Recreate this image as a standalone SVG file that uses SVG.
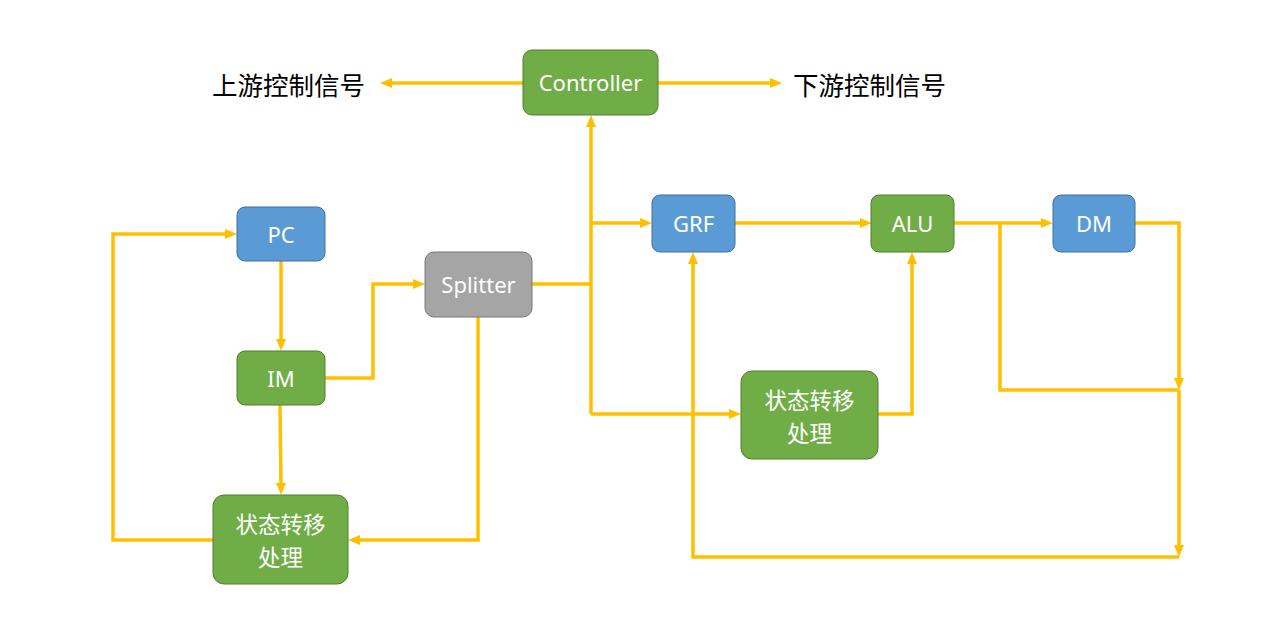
<svg xmlns="http://www.w3.org/2000/svg" width="1271" height="635" viewBox="0 0 1271 635">
<style>
.g{fill:#70AD47;stroke:#507E32;stroke-width:1}
.b{fill:#5B9BD5;stroke:#41719C;stroke-width:1}
.s{fill:#A5A5A5;stroke:#787878;stroke-width:1}
.t{font-family:"Noto Sans","Liberation Sans",sans-serif;font-size:22px;fill:#fff;text-anchor:middle;dominant-baseline:central}
.c{font-family:"Noto Sans CJK SC",sans-serif;font-size:22.5px;fill:#fff;text-anchor:middle;dominant-baseline:central}
.k{font-family:"Noto Sans CJK SC",sans-serif;font-size:25.5px;fill:#000;dominant-baseline:central}
.w{fill:none;stroke:#FFC000;stroke-width:3.5}
.a{marker-end:url(#ar)}
</style>
<defs>
<marker id="ar" markerUnits="userSpaceOnUse" markerWidth="12" markerHeight="10" refX="5" refY="5" orient="auto"><path d="M0,0 L12,5 L0,10 z" fill="#FFC000"/></marker>
</defs>
<rect width="1271" height="635" fill="#fff"/>
<g id="connectors">
<path class="w a" d="M523,83 H387"/>
<path class="w a" d="M658,83 H775"/>
<path class="w" d="M532,284 H591"/>
<path class="w a" d="M591,414 V122"/>
<path class="w a" d="M591,223 H645"/>
<path class="w a" d="M591,414 H734"/>
<path class="w a" d="M281,261 V344"/>
<path class="w a" d="M280,405 L281,488"/>
<path class="w a" d="M325,378 H373 V284 H418"/>
<path class="w a" d="M478,317 V540 H355"/>
<path class="w a" d="M213,540 H113 V234 H230"/>
<path class="w a" d="M735,223 H865"/>
<path class="w a" d="M878,414 H912 V259"/>
<path class="w a" d="M954,223 H1046"/>
<path class="w" d="M1000,223 V390 H1179"/>
<path class="w a" d="M1135,223 H1179 V383"/>
<path class="w a" d="M1179,390 V550"/>
<path class="w a" d="M1179,557 H693 V259"/>
</g>
<g id="label-up"><text class="k" x="212" y="83">上游控制信号</text></g>
<g id="label-down"><text class="k" x="793" y="83">下游控制信号</text></g>
<g id="controller"><rect class="g" x="523" y="50" width="135" height="65" rx="9"/><text class="t" x="590.5" y="82">Controller</text></g>
<g id="pc"><rect class="b" x="237" y="207" width="88" height="54" rx="8"/><text class="t" x="281" y="234">PC</text></g>
<g id="im"><rect class="g" x="237" y="351" width="88" height="54" rx="8"/><text class="t" x="281" y="378">IM</text></g>
<g id="splitter"><rect class="s" x="425" y="252" width="107" height="65" rx="9"/><text class="t" x="478.5" y="284">Splitter</text></g>
<g id="state1"><rect class="g" x="213" y="495" width="135" height="89" rx="11"/><text class="c" x="280.5" y="523">状态转移<tspan x="280.5" dy="33">处理</tspan></text></g>
<g id="grf"><rect class="b" x="652" y="195" width="83" height="57" rx="8"/><text class="t" x="693.5" y="223">GRF</text></g>
<g id="alu"><rect class="g" x="871" y="195" width="83" height="57" rx="8"/><text class="t" x="912.5" y="223">ALU</text></g>
<g id="dm"><rect class="b" x="1053" y="195" width="82" height="57" rx="8"/><text class="t" x="1094" y="223">DM</text></g>
<g id="state2"><rect class="g" x="741" y="371" width="137" height="88" rx="11"/><text class="c" x="809.5" y="399">状态转移<tspan x="809.5" dy="33">处理</tspan></text></g>
</svg>
